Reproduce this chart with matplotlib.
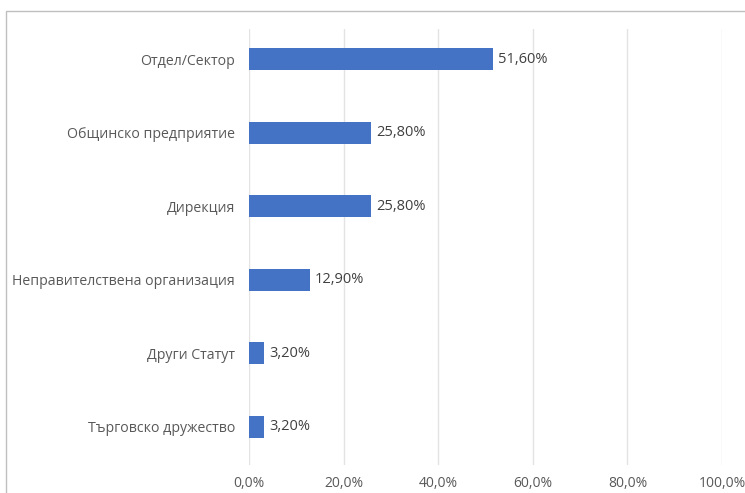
import matplotlib.pyplot as plt
from matplotlib.patches import Rectangle

categories = [
    "Отдел/Сектор",
    "Общинско предприятие",
    "Дирекция",
    "Неправителствена организация",
    "Други Статут",
    "Търговско дружество",
]
shares = [51.6, 25.8, 25.8, 12.9, 3.2, 3.2]
x_ticks = [0, 20, 40, 60, 80, 100]

plt.rcParams['font.family'] = ['Open Sans', 'DejaVu Sans']

fig = plt.figure(figsize=(7.45, 4.93), dpi=100)

# outer chart frame
fig.patches.append(Rectangle((6 / 745, -0.1), 1.2, 1.1 - 11 / 493,
                             transform=fig.transFigure, fill=False,
                             edgecolor='#bfbfbf', linewidth=1.0))

ax = fig.add_axes([249 / 745, 1 - 465 / 493, 473 / 745, 436 / 493])

pos = list(range(len(categories)))
ax.barh(pos, [v / 100 for v in shares], height=0.3, color='#4472C4', zorder=3)

for y, v in zip(pos, shares):
    ax.text(v / 100 + 0.01, y, f"{v:.2f}%".replace('.', ','),
            va='center', ha='left', fontsize=10.5, color='#404040')

ax.set_xlim(0, 1.0)
ax.set_ylim(5.52, -0.41)
ax.set_xticks([t / 100 for t in x_ticks])
ax.set_xticklabels([f"{t:.1f}%".replace('.', ',') for t in x_ticks],
                   fontsize=10, color='#595959')
ax.set_yticks(pos)
ax.set_yticklabels(categories, fontsize=10.2, color='#595959')
ax.tick_params(axis='both', length=0)
ax.tick_params(axis='y', pad=10)
ax.tick_params(axis='x', pad=8)
ax.grid(axis='x', color='#e3e3e3', linewidth=1.0, zorder=0)
for s in ax.spines.values():
    s.set_visible(False)

fig.savefig('out.png', dpi=100)
